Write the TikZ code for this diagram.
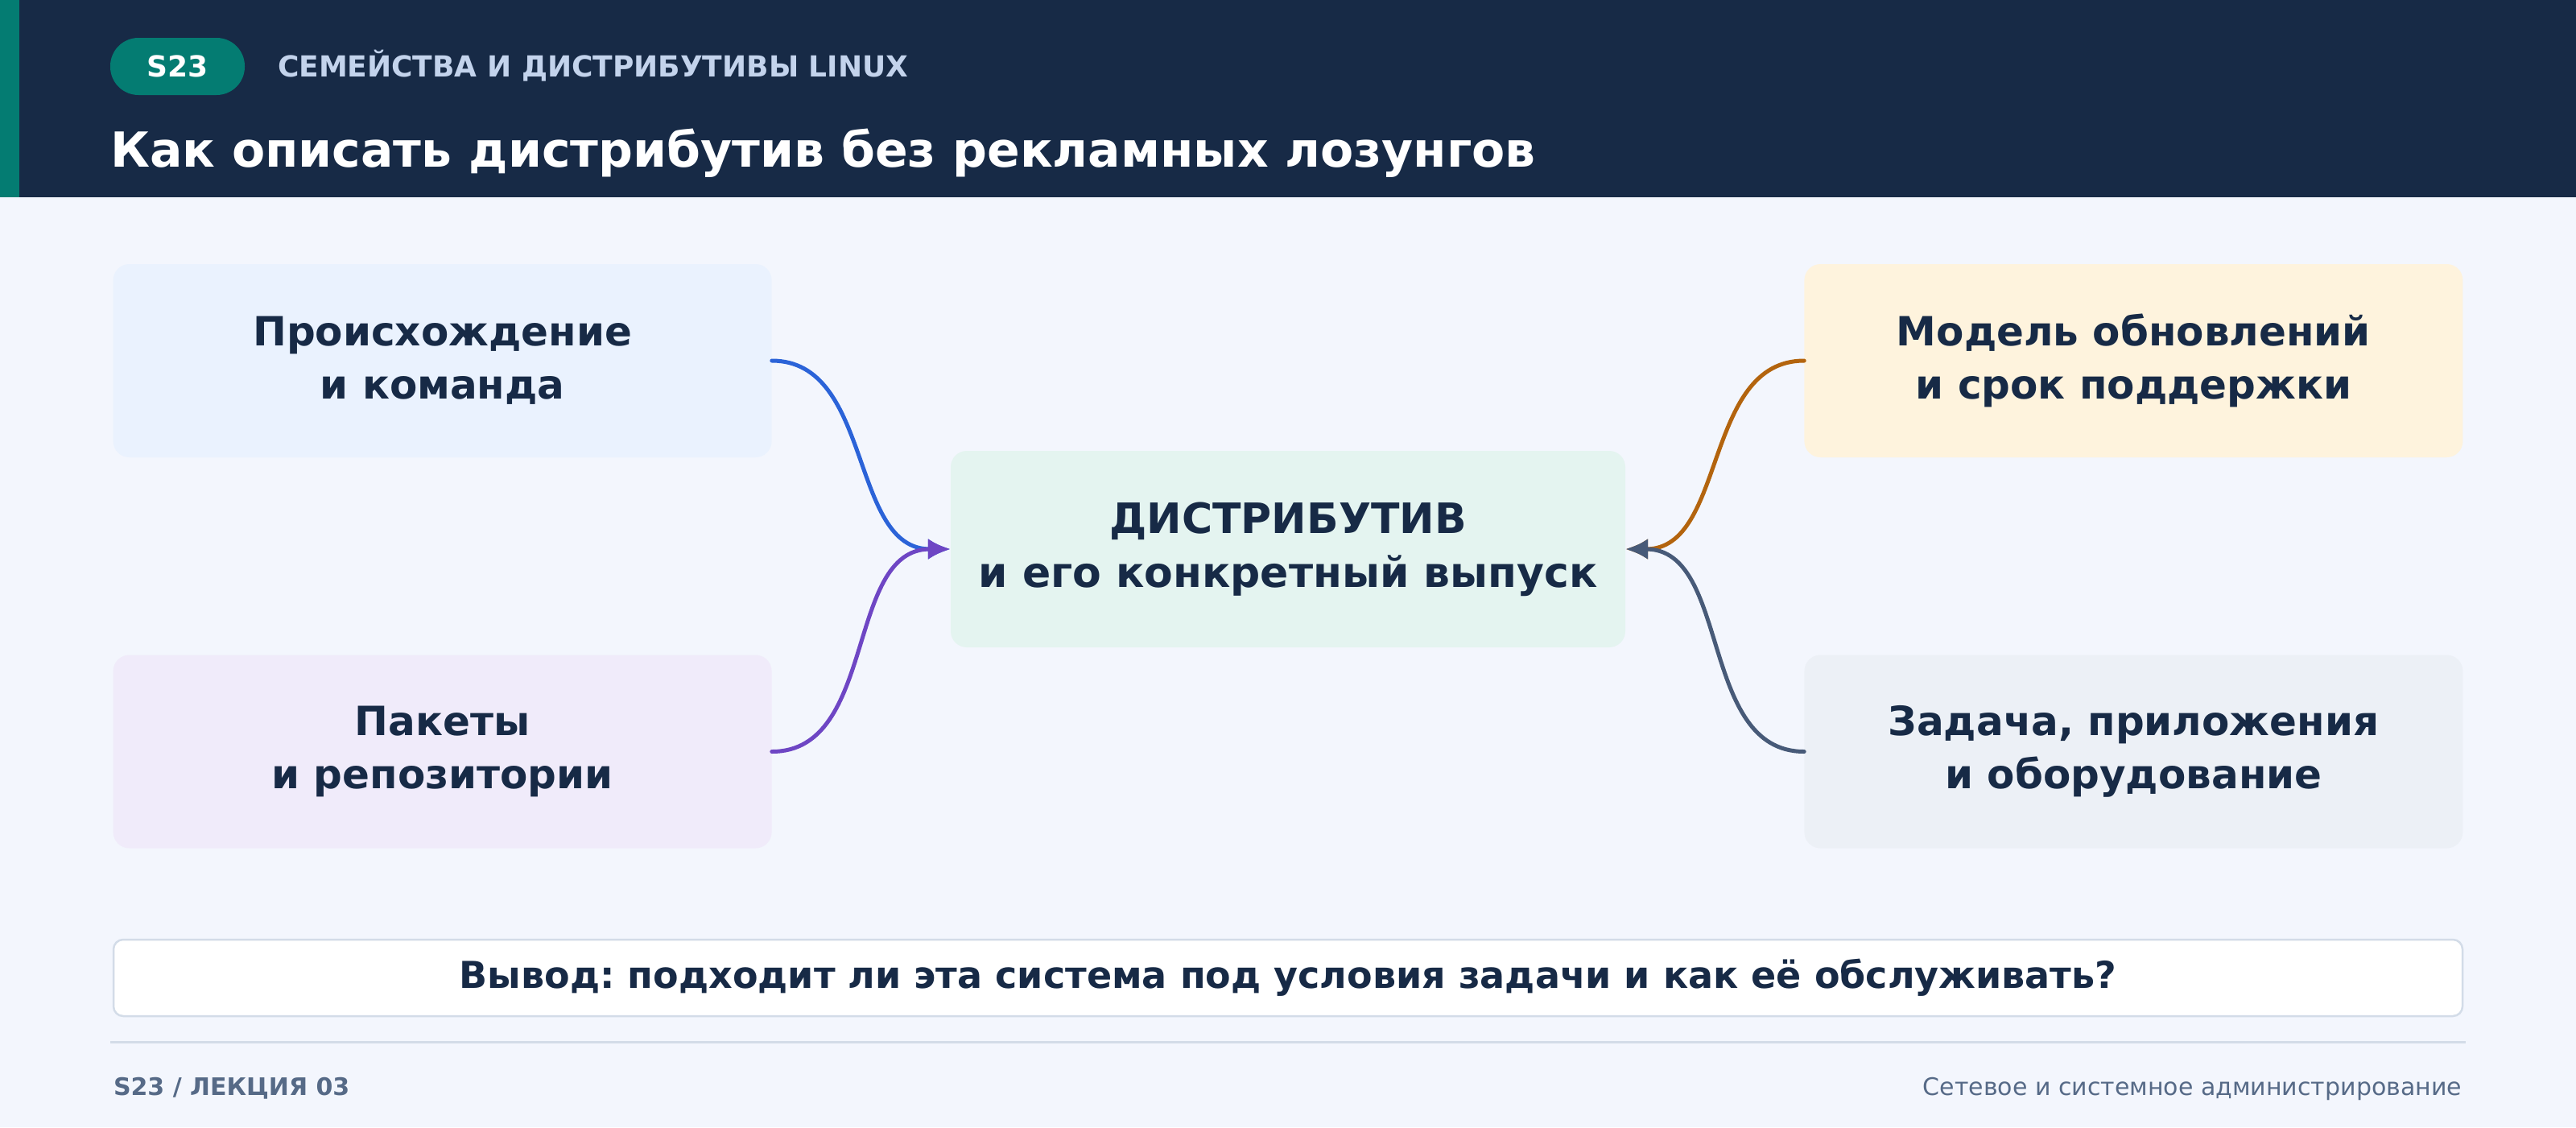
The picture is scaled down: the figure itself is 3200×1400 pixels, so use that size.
\documentclass[tikz,border=0pt]{standalone}
\usepackage{fontspec}
\setmainfont{DejaVu Sans}
\frenchspacing
\usetikzlibrary{arrows.meta,positioning}

\definecolor{pagebg}{HTML}{F3F6FD}
\definecolor{headbg}{HTML}{172A46}
\definecolor{tealmark}{HTML}{047C72}
\definecolor{subtext}{HTML}{C3D3EC}
\definecolor{navy}{HTML}{172A46}
\definecolor{fillblue}{HTML}{EAF2FE}
\definecolor{fillpurple}{HTML}{F0EBFA}
\definecolor{fillorange}{HTML}{FEF3DD}
\definecolor{fillslate}{HTML}{ECF0F6}
\definecolor{fillmint}{HTML}{E4F4F0}
\definecolor{lineblue}{HTML}{2B63D8}
\definecolor{linepurple}{HTML}{6E46C4}
\definecolor{lineorange}{HTML}{B3640E}
\definecolor{lineslate}{HTML}{475A78}
\definecolor{rulegrey}{HTML}{D3DCE8}
\definecolor{foottext}{HTML}{566A87}

\begin{document}
\begin{tikzpicture}[x=1pt,y=-1pt,
  box/.style={rectangle,rounded corners=20pt,inner sep=0pt,minimum width=818pt,minimum height=240pt,align=center,text=navy,font=\bfseries\fontsize{50}{66}\selectfont},
  link/.style={line width=5pt,line cap=round,-{Latex[length=28pt,width=26pt]}},
  plain/.style={inner sep=0pt,outer sep=0pt}]

\useasboundingbox (0,0) rectangle (3200,1400);
\fill[pagebg] (0,0) rectangle (3200,1400);

% header
\fill[headbg] (0,0) rectangle (3200,245);
\fill[tealmark] (0,0) rectangle (24,245);
\node[plain,fill=tealmark,rounded corners=35pt,minimum width=167pt,minimum height=71pt,text=white,font=\bfseries\fontsize{36}{42}\selectfont] (tag) at (220.5,82.5) {S23};
\node[plain,anchor=base west,text=subtext,font=\bfseries\fontsize{36}{42}\selectfont] (course) at (345,95) {СЕМЕЙСТВА И ДИСТРИБУТИВЫ LINUX};
\node[plain,anchor=base west,text=white,font=\bfseries\fontsize{60}{72}\selectfont] (title) at (137,207) {Как описать дистрибутив без рекламных лозунгов};

% Nodes
\node[box,fill=fillmint,minimum width=838pt,minimum height=244pt,font=\bfseries\fontsize{52}{67}\selectfont] (dist) at (1600,682) {ДИСТРИБУТИВ\\и его конкретный выпуск};
\node[box,fill=fillblue,left=222pt of dist.west,yshift=234pt] (origin) {Происхождение\\и команда};
\node[box,fill=fillpurple,left=222pt of dist.west,yshift=-251.5pt] (packages) {Пакеты\\и репозитории};
\node[box,fill=fillorange,right=222pt of dist.east,yshift=234pt] (updates) {Модель обновлений\\и срок поддержки};
\node[box,fill=fillslate,right=222pt of dist.east,yshift=-251.5pt] (purpose) {Задача, приложения\\и оборудование};

%arcs
\path (origin.east) edge[link,lineblue,out=0,in=180] (dist.west);
\path (updates.west) edge[link,lineorange,out=180,in=0] (dist.east);
\path (packages.east) edge[link,linepurple,out=0,in=180] (dist.west);
\path (purpose.west) edge[link,lineslate,out=180,in=0] (dist.east);

% summary and footer
\node[box,fill=white,draw=rulegrey,line width=2.5pt,rounded corners=12pt,minimum width=2918pt,minimum height=95pt,font=\bfseries\fontsize{46}{54}\selectfont] (verdict) at (1600,1214.5) {Вывод: подходит ли эта система под условия задачи и как её обслуживать?};
\draw[rulegrey,line width=3pt] (137,1294) -- (3063,1294);
\node[plain,anchor=base west,text=foottext,font=\bfseries\fontsize{30}{36}\selectfont] (lecture) at (141,1360) {S23 / ЛЕКЦИЯ 03};
\node[plain,anchor=base east,text=foottext,font=\fontsize{30}{36}\selectfont] (subject) at (3058,1360) {Сетевое и системное администрирование};

\end{tikzpicture}
\end{document}
